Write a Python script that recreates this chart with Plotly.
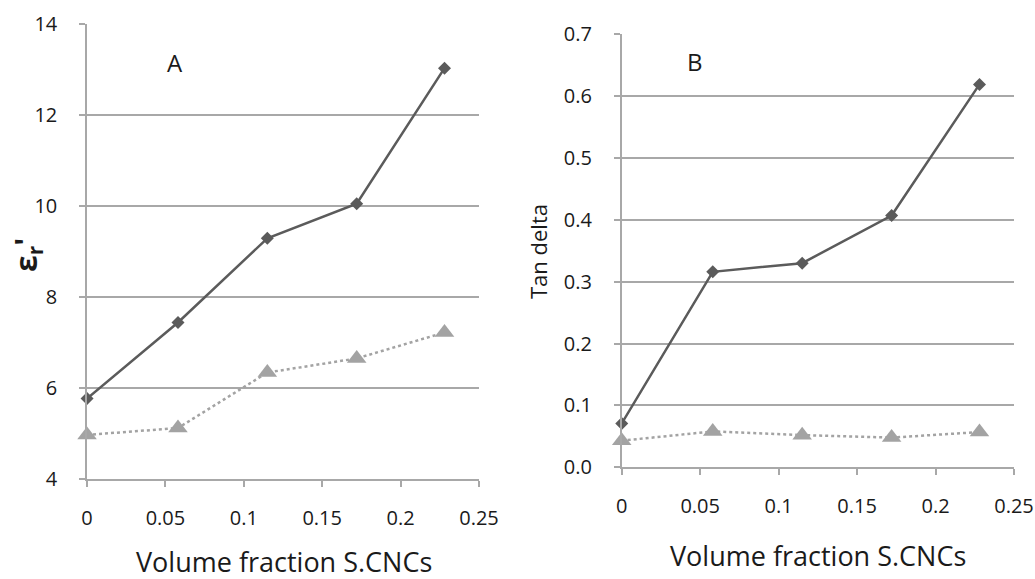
import plotly.graph_objects as go

# Volume fraction of S.CNCs
frac = [0, 0.058, 0.115, 0.172, 0.228]

# Panel A: relative permittivity
eps_solid = [5.77, 7.44, 9.29, 10.05, 13.03]
eps_dotted = [4.97, 5.12, 6.34, 6.65, 7.22]

# Panel B: loss tangent
tan_solid = [0.071, 0.316, 0.330, 0.407, 0.619]
tan_dotted = [0.043, 0.058, 0.052, 0.048, 0.057]

x_ticks = [0, 0.05, 0.1, 0.15, 0.2, 0.25]
x_labels = ["0", "0.05", "0.1", "0.15", "0.2", "0.25"]

FONT = "Open Sans"
INK = "#1a1a1a"
DARK = "#5b5b5b"
LIGHT = "#a3a3a3"
GRID = "#a8a8a8"

fig = go.Figure()


def add_pair(xa, ya, solid, dotted):
    fig.add_trace(go.Scatter(
        x=frac, y=solid, xaxis=xa, yaxis=ya, mode="lines+markers",
        line=dict(color=DARK, width=2.5),
        marker=dict(symbol="diamond", size=10, color=DARK),
        showlegend=False, cliponaxis=False))
    fig.add_trace(go.Scatter(
        x=frac, y=dotted, xaxis=xa, yaxis=ya, mode="lines+markers",
        line=dict(color=LIGHT, width=2.5, dash="dot"),
        marker=dict(symbol="triangle-up", size=17, color=LIGHT),
        showlegend=False, cliponaxis=False))


add_pair("x", "y", eps_solid, eps_dotted)
add_pair("x2", "y2", tan_solid, tan_dotted)

tick_font = dict(family=FONT, size=20, color=INK)
xcommon = dict(
    range=[0, 0.25], tickvals=x_ticks, ticktext=x_labels, automargin=False,
    showgrid=False, zeroline=False, showline=True, linecolor=GRID, linewidth=1.5,
    ticks="outside", ticklen=6, tickwidth=1.5, tickcolor=GRID,
    ticklabelstandoff=14, tickfont=tick_font,
)
ycommon = dict(
    automargin=False,
    showgrid=True, gridcolor=GRID, gridwidth=1.5, zeroline=False,
    showline=True, linecolor=GRID, linewidth=1.5,
    ticks="outside", ticklen=6, tickwidth=1.5, tickcolor=GRID,
    ticklabelstandoff=18, tickfont=tick_font,
)

fig.update_layout(
    width=1035, height=579,
    margin=dict(l=0, r=0, t=0, b=0),
    paper_bgcolor="white", plot_bgcolor="white",
    xaxis=dict(domain=[0.0841, 0.4628], anchor="y", **xcommon),
    yaxis=dict(domain=[0.1727, 0.9585], anchor="x", range=[4, 14], dtick=2,
               **ycommon),
    xaxis2=dict(domain=[0.6007, 0.9797], anchor="y2", **xcommon),
    yaxis2=dict(domain=[0.1929, 0.9408], anchor="x2", range=[0, 0.7], dtick=0.1,
                tickformat=".1f", **ycommon),
)

title_font = dict(family=FONT, size=27, color=INK)
annotations = [
    dict(text="A", x=175, y=63, font=dict(family=FONT, size=24, color=INK)),
    dict(text="B", x=695, y=62, font=dict(family=FONT, size=24, color=INK)),
    dict(text="Volume fraction S.CNCs", x=284, y=561, font=title_font),
    dict(text="Volume fraction S.CNCs", x=818, y=555, font=title_font),
    dict(text="<b>ε<sub>r</sub>'</b>", x=27, y=255, textangle=-90,
         font=dict(family=FONT, size=30, color=INK)),
    dict(text="Tan delta", x=538, y=252, textangle=-90,
         font=dict(family=FONT, size=22, color=INK)),
]
for a in annotations:
    fig.add_annotation(
        text=a["text"], x=a["x"] / 1035, y=1 - a["y"] / 579,
        xref="paper", yref="paper", xanchor="center", yanchor="middle",
        showarrow=False, textangle=a.get("textangle", 0), font=a["font"])

fig.write_html("out.html")
